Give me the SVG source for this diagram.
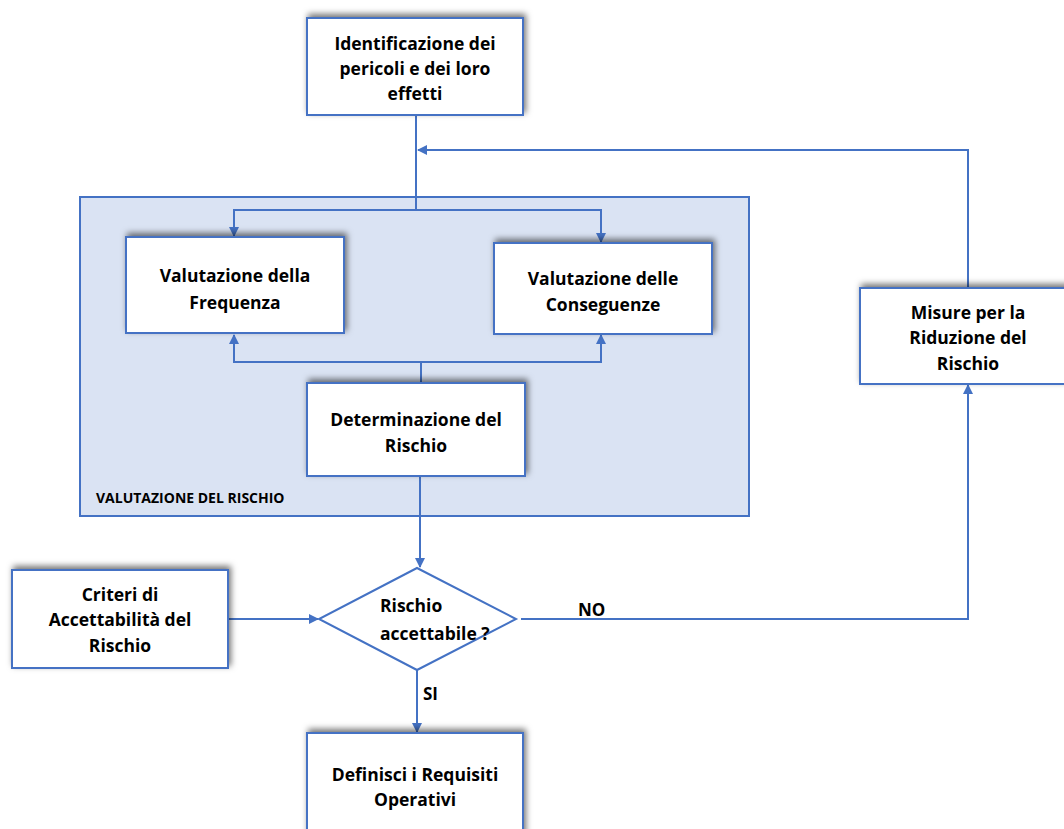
<svg xmlns="http://www.w3.org/2000/svg" width="1064" height="829" viewBox="0 0 1064 829">
  <defs>
    <filter id="shadow" x="-10%" y="-25%" width="125%" height="150%">
      <feDropShadow dx="2" dy="-3" stdDeviation="3" flood-color="#000" flood-opacity="0.55"/>
    </filter>
    <marker id="arrow" markerWidth="10" markerHeight="10" refX="9" refY="5" orient="auto" markerUnits="userSpaceOnUse" viewBox="0 0 10 10">
      <path d="M0,0 L10,5 L0,10 Z" fill="#4472c4"/>
    </marker>
    <style>
      .box { fill: #ffffff; stroke: #4472c4; stroke-width: 2; filter: url(#shadow); }
      .frame { fill: #dae3f3; stroke: #4472c4; stroke-width: 2; }
      .link { fill: none; stroke: #4472c4; stroke-width: 2; }
      .lbl { font-family: "Open Sans", "Liberation Sans", Arial, sans-serif; font-weight: bold; font-size: 17.5px; fill: #000; text-anchor: middle; }
      .small { font-family: "Open Sans", "Liberation Sans", Arial, sans-serif; font-weight: bold; font-size: 14px; fill: #000; }
      .tag { font-family: "Open Sans", "Liberation Sans", Arial, sans-serif; font-weight: bold; font-size: 17px; fill: #000; }
    </style>
  </defs>
  <rect width="1064" height="829" fill="#ffffff"/>

  <!-- risk assessment container -->
  <g id="valutazione-rischio">
    <rect class="frame" x="80" y="197" width="669" height="319"/>
    <text class="small" x="96" y="503">VALUTAZIONE DEL RISCHIO</text>
  </g>

  <!-- connectors -->
  <g id="connectors">
    <!-- hazard identification down into the container -->
    <path class="link" d="M416,115 V210"/>
    <path class="link" d="M416,210 H234 V236" marker-end="url(#arrow)"/>
    <path class="link" d="M416,210 H601 V242" marker-end="url(#arrow)"/>
    <!-- risk determination up to frequency and consequences -->
    <path class="link" d="M421,383 V362"/>
    <path class="link" d="M421,362 H234 V335" marker-end="url(#arrow)"/>
    <path class="link" d="M421,362 H601 V335" marker-end="url(#arrow)"/>
    <!-- risk determination to decision -->
    <path class="link" d="M420,476 V567" marker-end="url(#arrow)"/>
    <!-- criteria to decision -->
    <path class="link" d="M228,619 H318" marker-end="url(#arrow)"/>
    <!-- NO branch to reduction measures -->
    <path class="link" d="M521,619 H968 V385" marker-end="url(#arrow)"/>
    <!-- reduction measures back to the top -->
    <path class="link" d="M968,288 V150 H418" marker-end="url(#arrow)"/>
    <!-- SI branch -->
    <path class="link" d="M417,670 V732" marker-end="url(#arrow)"/>
  </g>

  <g id="identificazione">
    <rect class="box" x="307" y="18" width="216" height="97"/>
    <text class="lbl" x="415" y="50">Identificazione dei</text>
    <text class="lbl" x="415" y="75">pericoli e dei loro</text>
    <text class="lbl" x="415" y="100">effetti</text>
  </g>

  <g id="frequenza">
    <rect class="box" x="126" y="237" width="218" height="96"/>
    <text class="lbl" x="235" y="282">Valutazione della</text>
    <text class="lbl" x="235" y="309">Frequenza</text>
  </g>

  <g id="conseguenze">
    <rect class="box" x="494" y="243" width="218" height="91"/>
    <text class="lbl" x="603" y="285">Valutazione delle</text>
    <text class="lbl" x="603" y="311">Conseguenze</text>
  </g>

  <g id="determinazione">
    <rect class="box" x="307" y="383" width="218" height="93"/>
    <text class="lbl" x="416" y="426">Determinazione del</text>
    <text class="lbl" x="416" y="452">Rischio</text>
  </g>

  <g id="criteri">
    <rect class="box" x="12" y="570" width="216" height="98"/>
    <text class="lbl" x="120" y="601">Criteri di</text>
    <text class="lbl" x="120" y="626">Accettabilità del</text>
    <text class="lbl" x="120" y="652">Rischio</text>
  </g>

  <g id="decisione">
    <path d="M417,568 L516,619 L417,670 L319,619 Z" fill="#ffffff" stroke="#4472c4" stroke-width="2"/>
    <text class="lbl" x="380" y="612" style="text-anchor:start">Rischio</text>
    <text class="lbl" x="380" y="640" style="text-anchor:start">accettabile ?</text>
  </g>

  <g id="misure">
    <rect class="box" x="860" y="288" width="216" height="96"/>
    <text class="lbl" x="968" y="319">Misure per la</text>
    <text class="lbl" x="968" y="344">Riduzione del</text>
    <text class="lbl" x="968" y="370">Rischio</text>
  </g>

  <g id="requisiti">
    <rect class="box" x="307" y="733" width="216" height="110"/>
    <text class="lbl" x="415" y="781">Definisci i Requisiti</text>
    <text class="lbl" x="415" y="806">Operativi</text>
  </g>

  <g id="etichette">
    <text class="tag" x="578" y="616">NO</text>
    <text class="tag" x="423" y="700">SI</text>
  </g>
</svg>
